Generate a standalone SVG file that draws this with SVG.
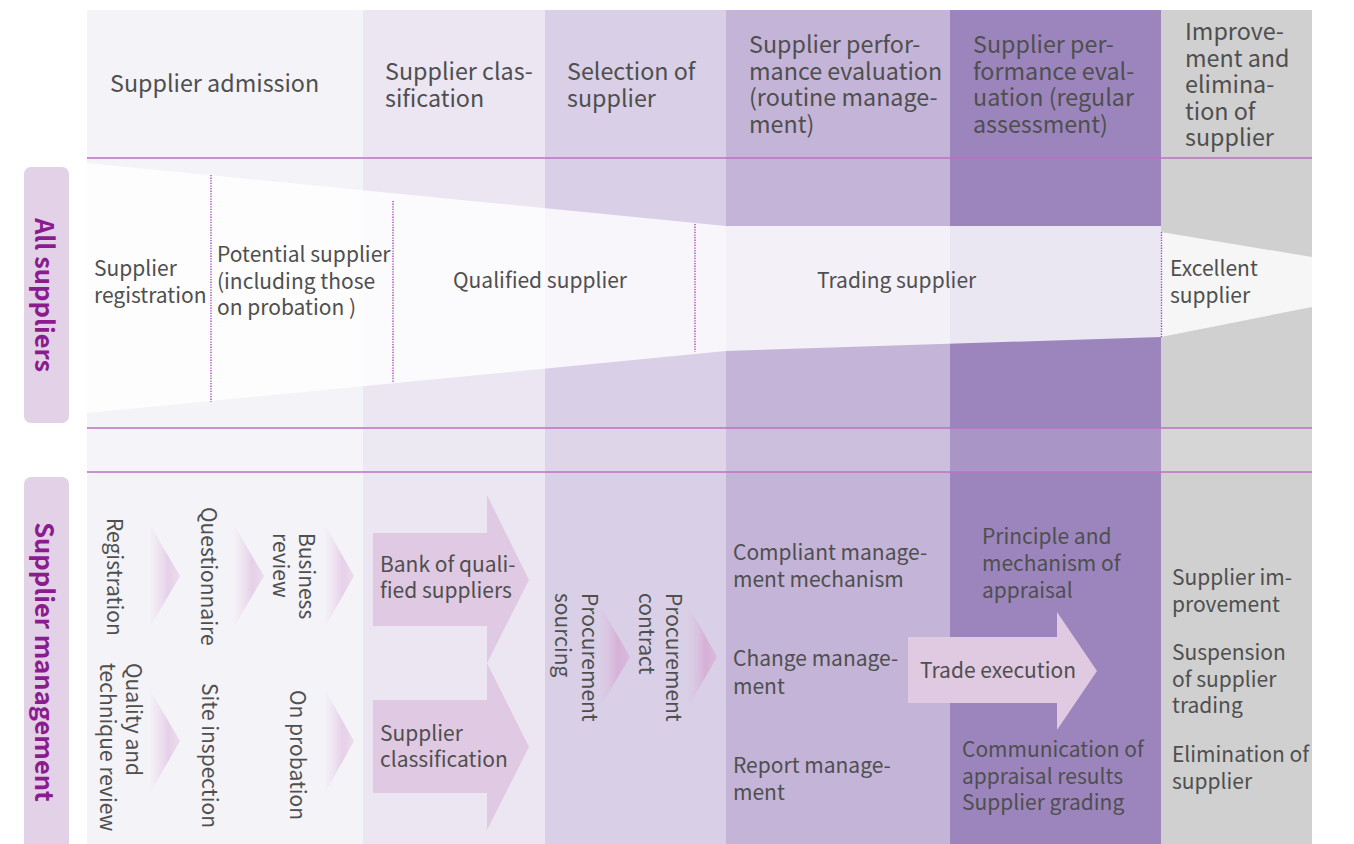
<svg xmlns="http://www.w3.org/2000/svg" width="1354" height="844" viewBox="0 0 1354 844">
<defs>
<style>
.t{font-family:"Noto Sans CJK SC","Noto Sans",sans-serif;fill:#4f4f4f}
.h{font-size:23.3px}
.m{font-size:21px}
.lab{font-family:"Noto Sans CJK SC","Noto Sans",sans-serif;font-size:25.5px;font-weight:600;fill:#8b1c90}
.sep{stroke:#bb72c2;stroke-width:1.6;fill:none}
.dot{stroke:#a43cb4;stroke-width:1.3;stroke-dasharray:1.3 1.3;fill:none}
.barrow{fill:#e0c9e2}
</style>
<linearGradient id="chevA" x1="0" y1="0" x2="1" y2="0">
<stop offset="0" stop-color="#ecdcee" stop-opacity="0.1"/>
<stop offset="0.6" stop-color="#e6d0e8" stop-opacity="1"/>
<stop offset="1" stop-color="#ead9ec" stop-opacity="0.9"/>
</linearGradient>
<linearGradient id="chevB" x1="0" y1="0" x2="1" y2="0">
<stop offset="0" stop-color="#dcc8e4" stop-opacity="0.2"/>
<stop offset="0.6" stop-color="#d6b0d8" stop-opacity="1"/>
<stop offset="1" stop-color="#d8b8dc" stop-opacity="0.9"/>
</linearGradient>
</defs>

<g id="columns">
<rect x="87" y="10" width="276" height="834" fill="#f4f3f8"/>
<rect x="363" y="10" width="182" height="834" fill="#ebe6f2"/>
<rect x="545" y="10" width="181" height="834" fill="#d9cfe6"/>
<rect x="726" y="10" width="224" height="834" fill="#c4b4d8"/>
<rect x="950" y="10" width="211" height="834" fill="#9c85bd"/>
<rect x="1161" y="10" width="151" height="834" fill="#cfd0cf"/>
<rect x="87" y="428" width="1225" height="44" fill="#ffffff" fill-opacity="0.14"/>
</g>

<g id="headers" class="t h">
<text x="110" y="92">Supplier admission</text>
<text x="385" y="80">Supplier clas-<tspan x="385" dy="26.5">sification</tspan></text>
<text x="567" y="80">Selection of<tspan x="567" dy="26.5">supplier</tspan></text>
<text x="749" y="53">Supplier perfor-<tspan x="749" dy="26.7">mance evaluation</tspan><tspan x="749" dy="26.7">(routine manage-</tspan><tspan x="749" dy="26.7">ment)</tspan></text>
<text x="973" y="53">Supplier per-<tspan x="973" dy="26.7">formance eval-</tspan><tspan x="973" dy="26.7">uation (regular</tspan><tspan x="973" dy="26.7">assessment)</tspan></text>
<text x="1185" y="40">Improve-<tspan x="1185" dy="26.6">ment and</tspan><tspan x="1185" dy="26.6">elimina-</tspan><tspan x="1185" dy="26.6">tion of</tspan><tspan x="1185" dy="26.6">supplier</tspan></text>
</g>

<g id="lines">
<line class="sep" x1="87" y1="158" x2="1312" y2="158"/>
<line class="sep" x1="87" y1="428" x2="1312" y2="428"/>
<line class="sep" x1="87" y1="472" x2="1312" y2="472"/>
</g>

<g id="label-all">
<rect x="24" y="167" width="45" height="256" rx="7" fill="#e3d1e7"/>
<text class="lab" transform="translate(46,295) rotate(90)" text-anchor="middle" dominant-baseline="central">All suppliers</text>
</g>
<g id="label-mgmt">
<rect x="24" y="477" width="45" height="380" rx="7" fill="#e3d1e7"/>
<text class="lab" transform="translate(46,662) rotate(90)" text-anchor="middle" dominant-baseline="central">Supplier management</text>
</g>

<g id="funnel">
<polygon points="87,163 726,226 1161,226 1161,337 726,351 87,413" fill="#ffffff" fill-opacity="0.8"/>
<polygon points="1161,232 1312,257 1312,307 1161,337" fill="#ffffff" fill-opacity="0.8"/>
</g>

<g id="connectors">
<line class="dot" x1="211" y1="175" x2="211" y2="402"/>
<line class="dot" x1="393" y1="201" x2="393" y2="383"/>
<line class="dot" x1="695" y1="224" x2="695" y2="352"/>
<line class="dot" x1="1161.5" y1="232" x2="1161.5" y2="337"/>
</g>

<g id="stages" class="t m">
<text x="94" y="276">Supplier<tspan x="94" dy="27">registration</tspan></text>
<text x="217" y="262">Potential supplier<tspan x="217" dy="26.7">(including those</tspan><tspan x="217" dy="26.7">on probation )</tspan></text>
<text x="453" y="288">Qualified supplier</text>
<text x="817" y="288">Trading supplier</text>
<text x="1170" y="276">Excellent<tspan x="1170" dy="27">supplier</tspan></text>
</g>

<g id="chevrons">
<polygon points="150,525 180,576 150,627" fill="url(#chevA)"/>
<polygon points="234,525 264,576 234,627" fill="url(#chevA)"/>
<polygon points="325,525 354,576 325,627" fill="url(#chevA)"/>
<polygon points="150,690 180,741 150,793" fill="url(#chevA)"/>
<polygon points="325,690 354,741 325,793" fill="url(#chevA)"/>
<polygon points="600,605 630,657 600,707" fill="url(#chevB)"/>
<polygon points="688,605 717,657 688,707" fill="url(#chevB)"/>
</g>

<g id="admission-steps" class="t m">
<text transform="translate(107,518) rotate(90)">Registration</text>
<text transform="translate(201,507) rotate(90)">Questionnaire</text>
<text transform="translate(299,533) rotate(90)">Business<tspan x="0" dy="26">review</tspan></text>
<text transform="translate(126,663) rotate(90)">Quality and<tspan x="0" dy="26">technique review</tspan></text>
<text transform="translate(202,683) rotate(90)">Site inspection</text>
<text transform="translate(290,690) rotate(90)">On probation</text>
</g>

<g id="bank-arrow">
<polygon class="barrow" points="373,533 487,533 487,495 529,580 487,663 487,626 373,626"/>
<text class="t m" x="380" y="572">Bank of quali-<tspan x="380" dy="26">fied suppliers</tspan></text>
</g>
<g id="classification-arrow">
<polygon class="barrow" points="373,700 487,700 487,663 529,747 487,830 487,793 373,793"/>
<text class="t m" x="380" y="741">Supplier<tspan x="380" dy="26">classification</tspan></text>
</g>

<g id="selection-steps" class="t m">
<text transform="translate(582,593) rotate(90)">Procurement<tspan x="0" dy="27">sourcing</tspan></text>
<text transform="translate(666,593) rotate(90)">Procurement<tspan x="0" dy="27">contract</tspan></text>
</g>

<g id="routine" class="t m">
<text x="733" y="560">Compliant manage-<tspan x="733" dy="27">ment mechanism</tspan></text>
<text x="733" y="666">Change manage-<tspan x="733" dy="28">ment</tspan></text>
<text x="733" y="773">Report manage-<tspan x="733" dy="27">ment</tspan></text>
</g>

<g id="trade-arrow">
<polygon points="908,637 1057,637 1057,612 1097,671 1057,730 1057,703 908,703" fill="#e0cae2"/>
<text class="t m" x="920" y="678">Trade execution</text>
</g>

<g id="regular" class="t m">
<text x="982" y="544">Principle and<tspan x="982" dy="27">mechanism of</tspan><tspan x="982" dy="27">appraisal</tspan></text>
<text x="962" y="757">Communication of<tspan x="962" dy="26.5">appraisal results</tspan><tspan x="962" dy="26.5">Supplier grading</tspan></text>
</g>

<g id="improvement" class="t m">
<text x="1172" y="585">Supplier im-<tspan x="1172" dy="27">provement</tspan></text>
<text x="1172" y="660">Suspension<tspan x="1172" dy="26.5">of supplier</tspan><tspan x="1172" dy="26.5">trading</tspan></text>
<text x="1172" y="762">Elimination of<tspan x="1172" dy="26.5">supplier</tspan></text>
</g>
</svg>
